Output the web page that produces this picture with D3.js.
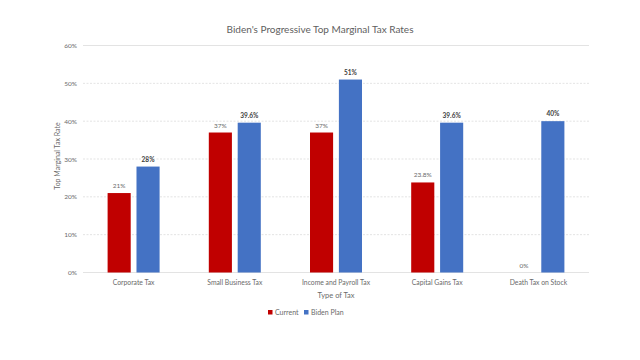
<!DOCTYPE html>
<html><head><meta charset="utf-8">
<script src="https://cdn.jsdelivr.net/npm/d3@7"></script>
<style>body{margin:0;background:#fff}svg{display:block}text{font-family:Lato,"Open Sans",sans-serif}</style>
</head><body><svg id="c" width="640" height="360"></svg>
<script>
const categories = ["Corporate Tax","Small Business Tax","Income and Payroll Tax","Capital Gains Tax","Death Tax on Stock"];
const seriesNames = ["Current","Biden Plan"];
const currentValues = [21, 37, 37, 23.8, 0];
const bidenValues = [28, 39.6, 51, 39.6, 40];
const currentLabels = ["21%","37%","37%","23.8%","0%"];
const bidenLabels = ["28%","39.6%","51%","39.6%","40%"];
const yTicks = [0,10,20,30,40,50,60];
const colors = ["#C00000","#4472C4"];

(function(){
const svg = d3.select("#c");
const txt = "#6a6a6a";
const mLeft = 83, mRight = 589, mTop = 45.5, mBottom = 272.5;
const x = d3.scaleBand().domain(categories).range([mLeft, mRight]);
const y = d3.scaleLinear().domain([0,60]).range([mBottom, mTop]);
const x1 = d3.scaleBand().domain(seriesNames).range([0, 52]).paddingInner(0.2);

svg.append("text").attr("x",320).attr("y",33).attr("text-anchor","middle")
  .attr("font-size",10).attr("fill","#606060").text("Biden's Progressive  Top Marginal Tax Rates");

// grid
svg.append("g").selectAll("line").data(yTicks).join("line")
  .attr("x1",mLeft).attr("x2",mRight).attr("y1",d=>y(d)).attr("y2",d=>y(d))
  .attr("stroke","#d9d9d9").attr("stroke-width",0.75)
  .attr("stroke-dasharray",d=>d===60||d===0?null:"2,1.5");

// y axis labels
const yAxis = d3.axisLeft(y).tickValues(yTicks).tickFormat(d=>d+"%").tickSize(0).tickPadding(6);
const ya = svg.append("g").attr("transform",`translate(${mLeft},0)`).call(yAxis);
ya.select(".domain").remove();
ya.selectAll("text").attr("font-size",6.5).attr("fill",txt).attr("font-family","Lato,'Open Sans',sans-serif");

svg.append("text").attr("transform","translate(60,156) rotate(-90)").attr("text-anchor","middle")
  .attr("font-size",7).attr("fill",txt).text("Top Marginal Tax Rate");

// bars
const data = categories.map((c,i)=>({c, vals:[
  {s:seriesNames[0], v:currentValues[i], l:currentLabels[i]},
  {s:seriesNames[1], v:bidenValues[i], l:bidenLabels[i]}]}));
const groups = svg.append("g").selectAll("g").data(data).join("g")
  .attr("transform",d=>`translate(${x(d.c)+x.bandwidth()/2-26},0)`);
groups.selectAll("rect").data(d=>d.vals).join("rect")
  .attr("x",d=>x1(d.s)).attr("width",x1.bandwidth())
  .attr("y",d=>y(d.v)).attr("height",d=>y(0)-y(d.v))
  .attr("fill",(d,i)=>colors[i]);
groups.selectAll("text").data(d=>d.vals).join("text")
  .attr("x",d=>x1(d.s)+x1.bandwidth()/2).attr("y",d=>y(d.v)-5)
  .attr("text-anchor","middle").attr("font-size",6.5)
  .attr("font-weight",(d,i)=>i===1?"bold":"normal")
  .attr("fill",(d,i)=>i===1?"#404040":txt).text(d=>d.l);

// x axis labels
const xAxis = d3.axisBottom(x).tickSize(0).tickPadding(8);
const xa = svg.append("g").attr("transform",`translate(0,${mBottom})`).call(xAxis);
xa.select(".domain").remove();
xa.selectAll("text").attr("font-size",6.8).attr("fill",txt).attr("font-family","Lato,'Open Sans',sans-serif");

svg.append("text").attr("x",336).attr("y",298).attr("text-anchor","middle")
  .attr("font-size",7.5).attr("fill",txt).text("Type of Tax");

// legend
const legend = svg.append("g");
const lx = [268, 304];
seriesNames.forEach((s,i)=>{
  legend.append("rect").attr("x",lx[i]).attr("y",310).attr("width",4.5).attr("height",4.5).attr("fill",colors[i]);
  legend.append("text").attr("x",lx[i]+7).attr("y",315).attr("font-size",7).attr("fill",txt).text(s);
});
})();
</script></body></html>
